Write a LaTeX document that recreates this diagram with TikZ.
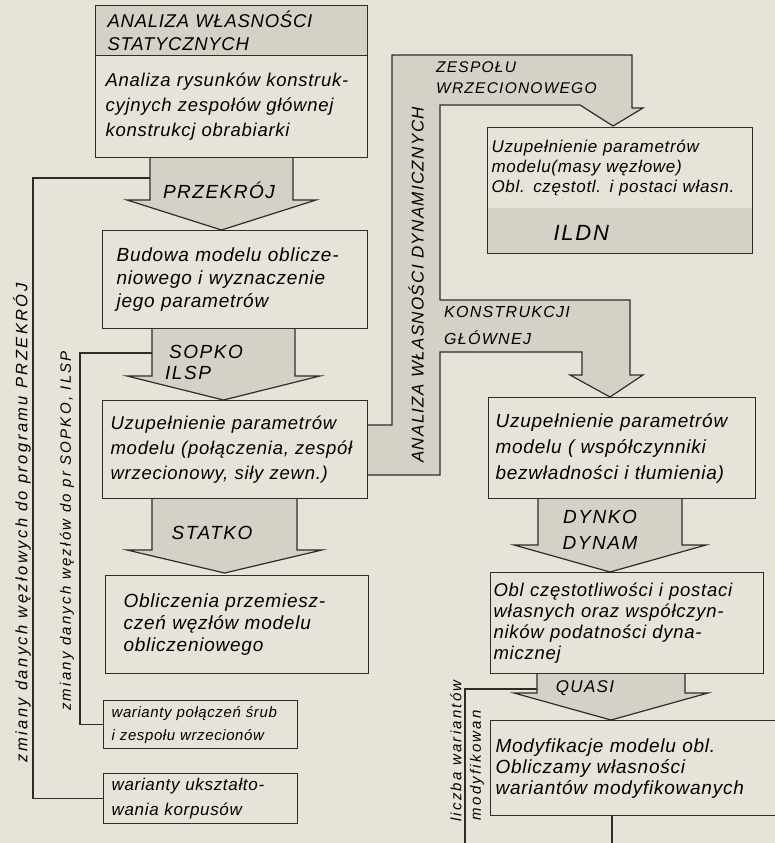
\documentclass[tikz,border=0pt]{standalone}
\usepackage{fontspec}
\usepackage{tikz}
\usetikzlibrary{positioning}
\newfontfamily\hand[LetterSpace=4]{Liberation Sans}
\newfontfamily\handcaps[LetterSpace=8]{Liberation Sans}
\newfontfamily\handmid[LetterSpace=15]{Liberation Sans}
\definecolor{paper}{RGB}{230,228,217}
\definecolor{stip}{RGB}{212,210,198}
\definecolor{ink}{RGB}{45,45,42}
\newcommand\blockdown[6]{\filldraw[inkline, fill=stip] (#1,#3) -- (#1,#4) -- (#1-#6,#4) -- ({(#1+#2)/2},#5) -- (#2+#6,#4) -- (#2,#4) -- (#2,#3);}

\begin{document}
\begin{tikzpicture}[x=1pt, y=-1pt]
          \tikzset{inkline/.style={draw=ink, line width=1.2pt}}
          \tikzset{stipple/.style={fill=stip}}
          \tikzset{box/.style={inkline, fill=paper, anchor=north west, align=left, inner ysep=0pt,
              font=\hand\itshape\fontsize{19}{23}\selectfont}}
          \tikzset{tag/.style={font=\handcaps\itshape\fontsize{19}{21}\selectfont, inner sep=0pt}}
          \tikzset{margintext/.style={font=\handmid\itshape\fontsize{16.5}{18}\selectfont, rotate=90, inner sep=0pt}}

          \useasboundingbox (0,0) rectangle (775,843);
          \fill[paper] (0,0) rectangle (775,843);

          \filldraw[inkline, fill=stip] (367,425) -- (392,425) -- (392,55) -- (632,55) -- (632,108)
            -- (643,108) -- (613,126) -- (580,105) -- (440,105) -- (440,300) -- (630,300) -- (630,375)
            -- (643,375) -- (610,397) -- (570,375) -- (582,375) -- (582,352) -- (440,352) -- (440,475) -- (367,475);

          \blockdown{150}{293}{157}{200}{230}{23}
          \blockdown{152}{295}{328}{376}{400}{25}
          \blockdown{152}{297}{498}{550}{573}{25}
          \blockdown{538}{682}{498}{545}{572}{24}
          \blockdown{537}{685}{673}{693}{720}{23}

          \node[box, stipple, minimum width=272pt, minimum height=50pt, inner xsep=12pt, text width=248pt,
            font=\hand\itshape\fontsize{18.5}{23}\selectfont] (b1h) at (95,5) {ANALIZA WŁASNOŚCI\\STATYCZNYCH};
          \node[box, minimum width=272pt, minimum height=102pt, inner xsep=10pt, text width=252pt,
            font=\hand\itshape\fontsize{18.5}{25}\selectfont] (b1) at (95,55) {Analiza rysunków konstruk-\\cyjnych zespołów głównej\\konstrukcj obrabiarki};
          \node[box, minimum width=265pt, minimum height=98pt, inner xsep=14pt, text width=237pt] (b2) at (102,230) {Budowa modelu oblicze-\\niowego i wyznaczenie\\jego parametrów};
          \node[box, minimum width=265pt, minimum height=98pt, inner xsep=8pt, text width=249pt,
            font=\hand\itshape\fontsize{18.5}{25}\selectfont] (b3) at (102,400) {Uzupełnienie parametrów\\modelu (połączenia, zespół\\wrzecionowy, siły zewn.)};
          \node[box, minimum width=263pt, minimum height=98pt, inner xsep=18pt, text width=227pt,
            font=\hand\itshape\fontsize{19}{22}\selectfont] (b4) at (105,575) {Obliczenia przemiesz-\\czeń węzłów modelu\\obliczeniowego};
          \node[box, minimum width=194pt, minimum height=48pt, inner xsep=8pt, text width=178pt,
            font=\hand\itshape\fontsize{15}{23}\selectfont] (b5) at (103,700) {warianty połączeń śrub\\i zespołu wrzecionów};
          \node[box, minimum width=194pt, minimum height=50pt, inner xsep=8pt, text width=178pt,
            font=\hand\itshape\fontsize{17}{25}\selectfont] (b6) at (103,773) {warianty ukształto-\\wania korpusów};

          \node[box, minimum width=265pt, minimum height=126pt, inner xsep=4pt, text width=257pt,
            font=\hand\itshape\fontsize{17}{20}\selectfont,
            path picture={\fill[stip] (path picture bounding box.south west) rectangle ([yshift=46pt]path picture bounding box.south east);}]
            (r1) at (487,127) {Uzupełnienie parametrów\\modelu(masy węzłowe)\\Obl. częstotl. i postaci własn.\\[28pt]\hspace*{62pt}{\handcaps\fontsize{22}{22}\selectfont ILDN}};
          \node[box, minimum width=267pt, minimum height=101pt, inner xsep=7pt, text width=253pt,
            font=\hand\itshape\fontsize{19}{26}\selectfont] (r2) at (488,397) {Uzupełnienie parametrów\\modelu ( współczynniki\\bezwładności i tłumienia)};
          \node[box, minimum width=273pt, minimum height=101pt, inner xsep=3pt, text width=267pt,
            font=\hand\itshape\fontsize{18.5}{21}\selectfont] (r3) at (490,572) {Obl częstotliwości i postaci\\własnych oraz współczyn-\\ników podatności dyna-\\micznej};
          \node[box, minimum width=300pt, minimum height=95pt, inner xsep=5pt, text width=290pt,
            font=\hand\itshape\fontsize{19}{21}\selectfont] (r4) at (490,720) {Modyfikacje modelu obl.\\Obliczamy własności\\wariantów modyfikowanych};

          \node[tag] (przekroj) at (219,190) {PRZEKRÓJ};
          \node[tag, align=left, anchor=north west] (sopko) at (165,345) {\hspace*{4pt}SOPKO\\ILSP};
          \node[tag] (statko) at (212,533) {STATKO};
          \node[tag, align=center, font=\handcaps\itshape\fontsize{19}{26}\selectfont] (dynko) at (600,530) {DYNKO\\DYNAM};
          \node[tag, font=\handcaps\itshape\fontsize{17}{17}\selectfont] (quasi) at (585,688) {QUASI};
          \node[tag, align=left, anchor=north west, font=\handcaps\itshape\fontsize{15.5}{21}\selectfont] (zesp) at (436,61) {ZESPOŁU\\WRZECIONOWEGO};
          \node[tag, align=left, anchor=north west, font=\handcaps\itshape\fontsize{16}{27}\selectfont] (konstr) at (444,306) {KONSTRUKCJI\\GŁÓWNEJ};
          \node[tag, rotate=90, font=\handcaps\itshape\fontsize{17}{17}\selectfont] (dyn) at (416,285) {ANALIZA WŁASNOŚCI DYNAMICZNYCH};

          \node[margintext] (zm1) at (22,523) {zmiany danych węzłowych do programu PRZEKRÓJ};
          \node[margintext, font=\handmid\itshape\fontsize{15}{16}\selectfont] (zm2) at (67,531) {zmiany danych węzłów do pr SOPKO, ILSP};
          \node[margintext, anchor=east, font=\handmid\itshape\fontsize{15}{16}\selectfont] (liczba) at (456,680) {liczba wariantów};
          \node[margintext, anchor=east, font=\handmid\itshape\fontsize{15}{16}\selectfont] (modyf) at (477,710) {modyfikowan};

          \coordinate (p1) at (150,178);
          \coordinate (p2) at (152,353);
          \coordinate (p5) at (537,689);
          \coordinate (k1) at (33,178);
          \coordinate (k2) at (80,353);
          \coordinate (k5) at (465,843);
          \coordinate (k6) at (612,843);
          \draw[inkline, line width=1.1pt] (b6.west) -| (k1) -- (p1);
          \draw[inkline, line width=1.1pt] (b5.west) -| (k2) -- (p2);
          \draw[inkline, line width=1.1pt] (k5) |- (p5);
          \draw[inkline, line width=1.1pt] (k6 |- r4.south) -- (k6);
        \end{tikzpicture}
\end{document}
